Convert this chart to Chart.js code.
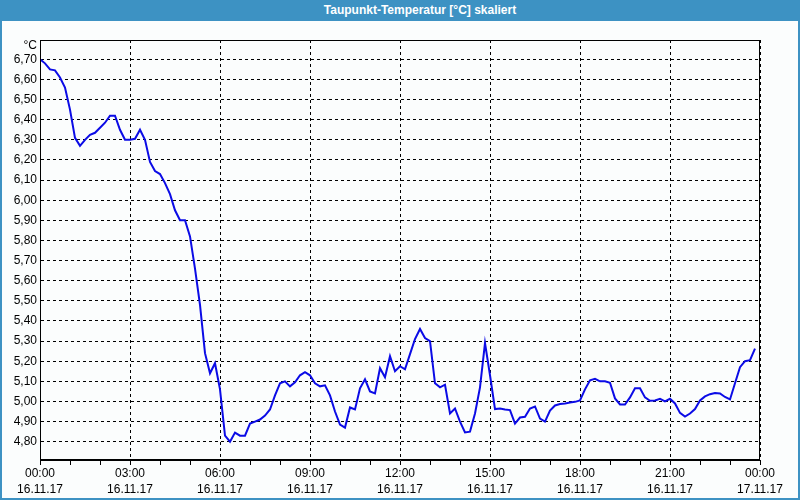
<!DOCTYPE html>
<html>
<head>
<meta charset="utf-8">
<script src="https://cdn.jsdelivr.net/npm/chart.js@4.4.1/dist/chart.umd.min.js"></script>
<style>
  html, body { margin: 0; padding: 0; background: #fbfdfd; }
  #wrap { position: relative; width: 800px; height: 500px; overflow: hidden; }
  canvas { position: absolute; left: 0; top: 0; }
  #titlebar {
    position: absolute; left: 0; top: 0; width: 800px; height: 21px;
    background: #3d92c3; color: #fff; text-align: center;
    font: bold 12px "Liberation Sans", Arial, sans-serif; line-height: 21px;
    box-sizing: border-box; padding-left: 40px;
  }
  #border {
    position: absolute; left: 0; top: 0; width: 800px; height: 500px;
    box-sizing: border-box; border: 2px solid #3d92c3; border-top: none;
    pointer-events: none;
  }
</style>
</head>
<body>
<div id="wrap">
  <canvas id="chart" width="800" height="500"></canvas>
  <div id="titlebar">Taupunkt-Temperatur [°C] skaliert</div>
  <div id="border"></div>
</div>
<script>
// dew point readings every 10 minutes, 16.11.17
const stepMinutes = 10
const dewPoint00to06 = [6.70, 6.68, 6.65, 6.645, 6.61, 6.56, 6.45, 6.31, 6.27, 6.30, 6.325, 6.335,
  6.36, 6.385, 6.42, 6.42, 6.35, 6.30, 6.30, 6.305, 6.35, 6.30, 6.19, 6.145,
  6.13, 6.085, 6.03, 5.95, 5.90, 5.90, 5.82, 5.66, 5.48, 5.24, 5.14, 5.19]
const dewPoint06to12 = [5.06, 4.83, 4.80, 4.845, 4.83, 4.83, 4.89, 4.90, 4.91, 4.93, 4.96, 5.03,
  5.09, 5.10, 5.075, 5.095, 5.13, 5.145, 5.13, 5.09, 5.075, 5.08, 5.03, 4.95,
  4.885, 4.87, 4.97, 4.96, 5.065, 5.11, 5.05, 5.04, 5.165, 5.12, 5.225, 5.15]
const dewPoint12to18 = [5.175, 5.16, 5.235, 5.31, 5.36, 5.315, 5.30, 5.09, 5.07, 5.083, 4.94, 4.965,
  4.90, 4.846, 4.85, 4.94, 5.07, 5.29, 5.13, 4.962, 4.965, 4.96, 4.957, 4.89,
  4.92, 4.924, 4.965, 4.975, 4.915, 4.90, 4.955, 4.98, 4.987, 4.99, 4.995, 4.998]
const dewPoint18to24 = [5.005, 5.06, 5.105, 5.112, 5.10, 5.10, 5.093, 5.015, 4.985, 4.985, 5.02, 5.065,
  5.065, 5.02, 5.003, 5.005, 5.013, 5.00, 5.013, 4.99, 4.943, 4.925, 4.94, 4.962,
  5.005, 5.025, 5.036, 5.042, 5.04, 5.022, 5.01, 5.09, 5.17, 5.20, 5.205, 5.262]

const yTickValues = [4.8, 4.9, 5.0, 5.1, 5.2, 5.3, 5.4, 5.5, 5.6, 5.7, 5.8, 5.9, 6.0, 6.1, 6.2, 6.3, 6.4, 6.5, 6.6, 6.7]
const xTickTimes = ["00:00", "03:00", "06:00", "09:00", "12:00", "15:00", "18:00", "21:00", "00:00"]
const xTickDates = ["16.11.17", "16.11.17", "16.11.17", "16.11.17", "16.11.17", "16.11.17", "16.11.17", "16.11.17", "17.11.17"]

const values = [...dewPoint00to06, ...dewPoint06to12, ...dewPoint12to18, ...dewPoint18to24]
const points = values.map((v, i) => ({x: i * stepMinutes, y: v}))
const hourMarks = []
for (let m = 0; m <= 1440; m += 60) hourMarks.push(m)

const font = {family: "'Liberation Sans', Arial, sans-serif", size: 12, lineHeight: 1.3}

const framePlugin = {
  id: "frame",
  afterDraw(chart) {
    const {ctx, chartArea: a} = chart
    ctx.save()
    ctx.strokeStyle = "#000"
    ctx.lineWidth = 1
    ctx.setLineDash([])
    ctx.strokeRect(a.left + 0.5, a.top + 0.5, a.right - a.left - 1, a.bottom - a.top - 1)
    ctx.fillStyle = "#000"
    ctx.font = "12px 'Liberation Sans', Arial, sans-serif"
    ctx.textAlign = "right"
    ctx.textBaseline = "middle"
    ctx.fillText("°C", a.left - 3, a.top + 6)
    ctx.restore()
  }
}

new Chart(document.getElementById("chart").getContext("2d"), {
  type: "line",
  data: {
    datasets: [
      {label: "Taupunkt", data: points, borderColor: "#0b0be6", borderWidth: 2, pointRadius: 0, tension: 0, fill: false}
    ]
  },
  options: {
    responsive: false,
    animation: false,
    layout: {padding: {top: 40, right: 40, left: 0, bottom: 0}},
    plugins: {legend: {display: false}, tooltip: {enabled: false}},
    scales: {
      x: {
        type: "linear", min: 0, max: 1440,
        afterBuildTicks: s => { s.ticks = hourMarks.map(v => ({value: v})) },
        afterFit: s => { s.height = 40 },
        border: {color: "#000", width: 1, dash: [3, 3]},
        grid: {
          color: c => (c.tick && c.tick.value % 180 === 0) ? "#000" : "rgba(0,0,0,0)",
          lineWidth: 1, drawTicks: true, tickLength: 5, tickColor: "#000", tickWidth: 1, tickBorderDash: []
        },
        ticks: {
          autoSkip: false, maxRotation: 0, padding: 1, color: "#000", font: font,
          callback: v => v % 180 === 0 ? [xTickTimes[v / 180], xTickDates[v / 180]] : ""
        }
      },
      y: {
        min: 4.709, max: 6.796,
        afterBuildTicks: s => { s.ticks = yTickValues.map(v => ({value: v})) },
        afterFit: s => { s.width = 40 },
        border: {color: "#000", width: 1, dash: [3, 3]},
        grid: {color: "#000", lineWidth: 1, drawTicks: false},
        ticks: {padding: 3, color: "#000", font: font, callback: v => v.toFixed(2).replace(".", ",")}
      }
    }
  },
  plugins: [framePlugin]
})
</script>
</body>
</html>
